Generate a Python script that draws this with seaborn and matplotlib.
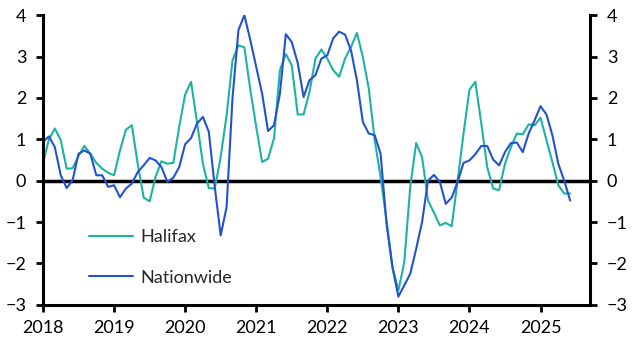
import numpy as np
import pandas as pd
import seaborn as sns
import matplotlib.pyplot as plt
from matplotlib.lines import Line2D

# Monthly house price growth (%), Jan 2018 to Jun 2025
halifax = [0.41, 1.0, 1.26, 0.98, 0.29, 0.30, 0.60, 0.84, 0.65, 0.43, 0.29, 0.19,
           0.13, 0.73, 1.23, 1.34, 0.40, -0.41, -0.50, 0.09, 0.47, 0.41, 0.43, 1.30,
           2.08, 2.39, 1.42, 0.41, -0.18, -0.19, 0.57, 1.58, 2.91, 3.27, 3.22, 2.20,
           1.30, 0.45, 0.53, 1.02, 2.67, 3.06, 2.79, 1.60, 1.60, 2.15, 2.95, 3.17,
           2.95, 2.67, 2.51, 2.95, 3.23, 3.57, 2.99, 2.23, 0.98, 0.09, -0.96, -2.09,
           -2.65, -1.97, -0.15, 0.91, 0.57, -0.48, -0.77, -1.08, -1.02, -1.10, 0.0, 1.14,
           2.20, 2.39, 1.38, 0.33, -0.19, -0.23, 0.41, 0.81, 1.14, 1.12, 1.36, 1.34,
           1.52, 0.98, 0.45, -0.11, -0.31, -0.31]
nationwide = [0.94, 1.07, 0.81, 0.13, -0.18, 0.01, 0.65, 0.73, 0.65, 0.13, 0.13, -0.15,
              -0.11, -0.40, -0.19, -0.07, 0.21, 0.37, 0.55, 0.49, 0.33, -0.03, 0.07, 0.33,
              0.88, 1.03, 1.38, 1.54, 1.18, -0.15, -1.32, -0.64, 2.0, 3.64, 4.0, 3.40,
              2.75, 2.10, 1.20, 1.34, 2.10, 3.54, 3.35, 2.85, 2.02, 2.43, 2.55, 2.95,
              3.03, 3.44, 3.60, 3.53, 3.15, 2.43, 1.42, 1.14, 1.10, 0.65, -1.04, -2.09,
              -2.80, -2.53, -2.25, -1.65, -1.00, 0.0, 0.14, -0.03, -0.56, -0.41, -0.03, 0.43,
              0.49, 0.64, 0.84, 0.84, 0.51, 0.37, 0.69, 0.91, 0.92, 0.69, 1.14, 1.46,
              1.80, 1.60, 1.10, 0.41, 0.0, -0.48]
years = list(range(2018, 2026))

# Build long-form data
t = 2018 + np.arange(len(halifax)) / 12
df = pd.concat([
    pd.DataFrame({'t': t, 'value': halifax, 'series': 'Halifax'}),
    pd.DataFrame({'t': t, 'value': nationwide, 'series': 'Nationwide'}),
])

sns.set_style("white")
plt.rcParams['font.family'] = ['Lato', 'DejaVu Sans']

fig = plt.figure(figsize=(6.32, 3.52), dpi=100)
ax = fig.add_axes([0.068, 0.134, 0.866, 0.823])

sns.lineplot(data=df, x='t', y='value', hue='series', ax=ax,
             palette={'Halifax': '#1db3a4', 'Nationwide': '#2352d1'},
             linewidth=1.5, legend=False)

ax.axhline(0, color='black', linewidth=2.5, zorder=1)
ax.set_xlim(2018, 2025.7)
ax.set_ylim(-3, 4)
ax.set_xticks(years)
ax.set_xticklabels([str(y) for y in years])
ax.set_yticks(range(-3, 5))
ax.set_xlabel("")
ax.set_ylabel("")

for s in ['left', 'right', 'bottom']:
    ax.spines[s].set_visible(True)
    ax.spines[s].set_color('black')
    ax.spines[s].set_linewidth(2.2)
ax.spines['top'].set_visible(False)

ax.tick_params(axis='both', which='both', direction='out', length=5, width=2,
               color='black', labelsize=13, labelcolor='black')
ax.tick_params(axis='y', left=True, right=True, labelleft=True, labelright=True, pad=7)
ax.tick_params(axis='x', bottom=True, pad=6)

# Legend, no frame, lower left
handles = [Line2D([], [], color='#1db3a4', lw=1.5),
           Line2D([], [], color='#2352d1', lw=1.5)]
ax.legend(handles, ['Halifax', 'Nationwide'], loc='lower left',
          bbox_to_anchor=(0.055, 0.01), frameon=False, fontsize=13,
          handlelength=2.4, labelspacing=1.35, handletextpad=0.4)

plt.savefig("out.png", dpi=100)
